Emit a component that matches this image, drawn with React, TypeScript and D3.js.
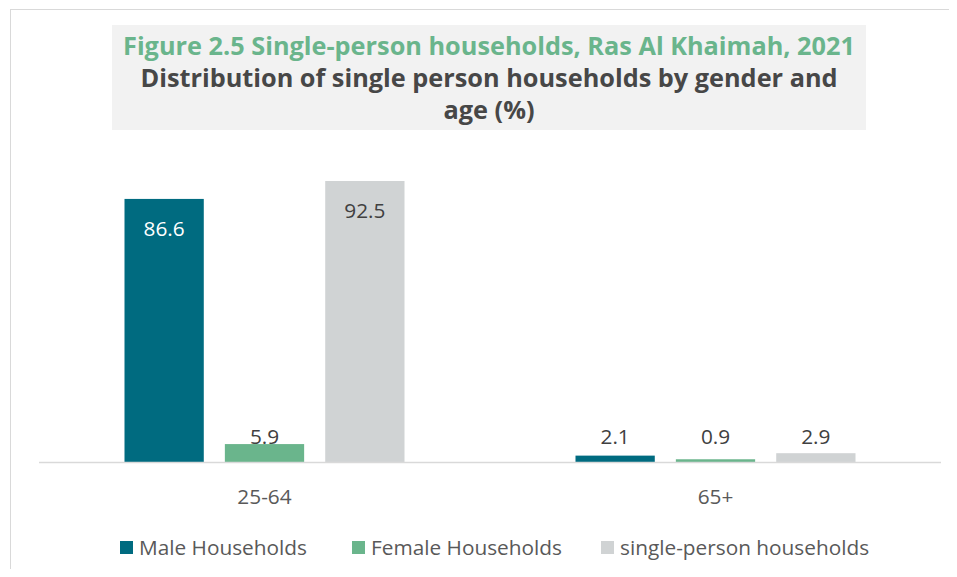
import React from "react";
import * as d3 from "d3";

const categories = ["25-64", "65+"];
const seriesNames = ["Male Households", "Female Households", "single-person households"];
const maleValues = [86.6, 2.1];
const femaleValues = [5.9, 0.9];
const totalValues = [92.5, 2.9];
const seriesColors = ["#006b80", "#6ab58c", "#d0d3d4"];
const labelColors = ["#ffffff", "#404040", "#404040"];
const titleLine1 = "Figure 2.5 Single-person households, Ras Al Khaimah, 2021";
const titleLines = ["Distribution of single person households by gender and", "age (%)"];

const W = 957;
const H = 577;
const FONT = "'Open Sans', 'Noto Sans', sans-serif";

export default function App() {
  const series = [maleValues, femaleValues, totalValues];
  const plotLeft = 39;
  const plotRight = 941;
  const baseY = 462;
  const x0 = d3.scaleBand<string>().domain(categories).range([plotLeft, plotRight]).paddingInner(0).paddingOuter(0);
  const x1 = d3.scaleBand<number>().domain([0, 1, 2]).range([85.5, x0.bandwidth() - 85.5]).paddingInner(21 / 100).paddingOuter(0);
  const y = d3.scaleLinear().domain([0, 92.5]).range([baseY, 181]);

  return (
    <div style={{ margin: -8 }}>
      <svg width={W} height={H} style={{ display: "block" }}>
        <rect x={0} y={0} width={W} height={H} fill="#ffffff" />
        <rect x={10.5} y={9.5} width={W} height={H} fill="none" stroke="#d9d9d9" strokeWidth={1} />
        <rect x={112} y={25} width={754} height={105} fill="#f2f2f2" />
        <text x={489} y={55} textAnchor="middle" fontFamily={FONT} fontWeight={700} fontSize={25.3} fill="#6ab58c">
          {titleLine1}
        </text>
        {titleLines.map((t, i) => (
          <text key={i} x={489} y={87 + i * 32} textAnchor="middle" fontFamily={FONT} fontWeight={700} fontSize={25.3} fill="#474747">
            {t}
          </text>
        ))}
        {categories.map((c, ci) => (
          <g key={c} transform={`translate(${x0(c)},0)`}>
            {series.map((vals, si) => {
              const v = vals[ci];
              const bx = x1(si)!;
              const bw = x1.bandwidth();
              const top = y(v);
              const big = baseY - top > 60;
              const ly = big ? top + 37 : Math.min(top, baseY - 18);
              return (
                <g key={si}>
                  <rect x={bx} y={top} width={bw} height={baseY - top} fill={seriesColors[si]} />
                  <text x={bx + bw / 2} y={ly} textAnchor="middle" fontFamily={FONT} fontSize={20.8} fill={big ? labelColors[si] : "#404040"}>
                    {v.toFixed(1)}
                  </text>
                </g>
              );
            })}
            <text x={x0.bandwidth() / 2} y={504} textAnchor="middle" fontFamily={FONT} fontSize={20.8} fill="#595959">
              {c}
            </text>
          </g>
        ))}
        <line x1={plotLeft} x2={plotRight} y1={baseY + 0.5} y2={baseY + 0.5} stroke="#d9d9d9" strokeWidth={1.5} />
        {seriesNames.map((n, i) => {
          const lx = [120, 352, 601][i];
          return (
            <g key={n}>
              <rect x={lx} y={541} width={13} height={13} fill={seriesColors[i]} />
              <text x={lx + 19} y={554.5} fontFamily={FONT} fontSize={20.8} fill="#595959">
                {n}
              </text>
            </g>
          );
        })}
      </svg>
    </div>
  );
}
